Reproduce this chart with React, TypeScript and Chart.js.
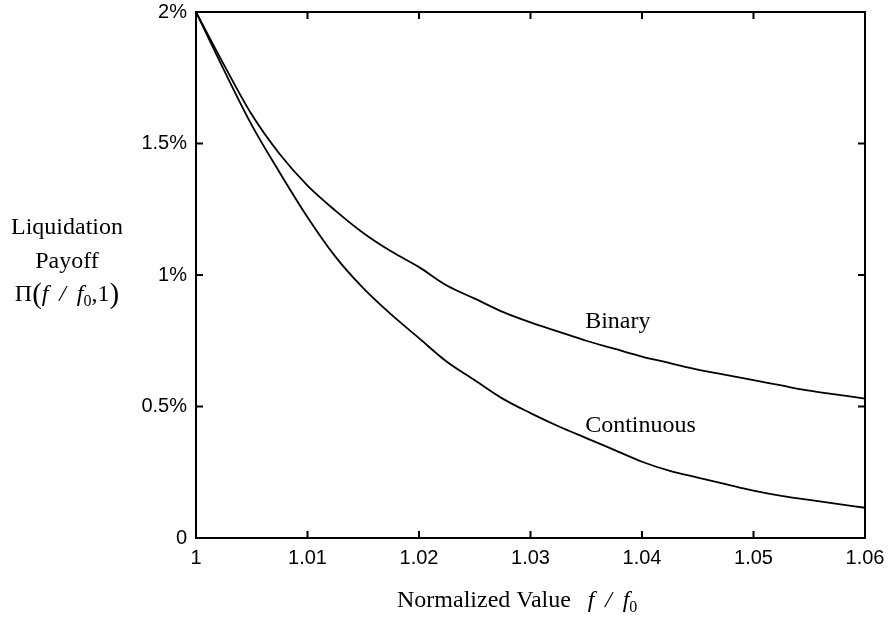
import { useEffect, useRef } from "react";
import { Chart, registerables } from "chart.js";

Chart.register(...registerables);

// ---- data ----
const binaryX = [1.0, 1.0025, 1.005, 1.0075, 1.01, 1.0125, 1.015, 1.0175, 1.02, 1.0225, 1.025, 1.0275, 1.03, 1.0325, 1.035, 1.0375, 1.04, 1.0425, 1.045, 1.0475, 1.05, 1.0525, 1.055, 1.0575, 1.06];
const binaryY = [2.0, 1.8, 1.61, 1.46, 1.34, 1.245, 1.16, 1.09, 1.03, 0.96, 0.91, 0.86, 0.82, 0.785, 0.75, 0.72, 0.69, 0.665, 0.64, 0.62, 0.6, 0.58, 0.56, 0.545, 0.53];

const continuousX = [1.0, 1.0025, 1.005, 1.0075, 1.01, 1.0125, 1.015, 1.0175, 1.02, 1.0225, 1.025, 1.0275, 1.03, 1.0325, 1.035, 1.0375, 1.04, 1.0425, 1.045, 1.0475, 1.05, 1.0525, 1.055, 1.0575, 1.06];
const continuousY = [2.0, 1.78, 1.57, 1.39, 1.22, 1.07, 0.95, 0.85, 0.76, 0.67, 0.6, 0.53, 0.475, 0.425, 0.38, 0.335, 0.29, 0.255, 0.23, 0.205, 0.18, 0.16, 0.145, 0.13, 0.115];

const seriesNames = ["Binary", "Continuous"];
const seriesLabelX = [1.0349, 1.0349];
const seriesLabelY = [0.798, 0.403];

const xTicks = [1, 1.01, 1.02, 1.03, 1.04, 1.05, 1.06];
const xTickLabels = ["1", "1.01", "1.02", "1.03", "1.04", "1.05", "1.06"];
const yTicks = [0, 0.5, 1, 1.5, 2];
const yTickLabels = ["0", "0.5%", "1%", "1.5%", "2%"];

const SERIF = '"Liberation Serif", "Times New Roman", serif';
const SANS = '"Liberation Sans", Arial, sans-serif';

type Run = { text: string; font: string; dy?: number };

function drawRuns(ctx: CanvasRenderingContext2D, runs: Run[], startX: number, baseline: number, center: boolean) {
  let total = 0;
  const widths = runs.map((r) => {
    ctx.font = r.font;
    const w = ctx.measureText(r.text).width;
    total += w;
    return w;
  });
  let x = center ? startX - total / 2 : startX;
  runs.forEach((r, i) => {
    ctx.font = r.font;
    ctx.fillText(r.text, x, baseline + (r.dy || 0));
    x += widths[i];
  });
}

const framePlugin = {
  id: "frameAndText",
  afterDraw(chart: any) {
    const { ctx, chartArea } = chart;
    const { left, right, top, bottom } = chartArea;
    const xs = chart.scales.x;
    const ys = chart.scales.y;
    ctx.save();
    ctx.strokeStyle = "#000";
    ctx.lineWidth = 2;
    ctx.strokeRect(left, top, right - left, bottom - top);
    ctx.beginPath();
    const tl = 7;
    xTicks.forEach((v) => {
      const px = xs.getPixelForValue(v);
      ctx.moveTo(px, bottom);
      ctx.lineTo(px, bottom - tl);
      ctx.moveTo(px, top);
      ctx.lineTo(px, top + tl);
    });
    yTicks.forEach((v) => {
      const py = ys.getPixelForValue(v);
      ctx.moveTo(left, py);
      ctx.lineTo(left + tl, py);
      ctx.moveTo(right, py);
      ctx.lineTo(right - tl, py);
    });
    ctx.stroke();

    ctx.fillStyle = "#000";
    ctx.textAlign = "left";
    ctx.textBaseline = "alphabetic";
    ctx.font = `24px ${SERIF}`;
    seriesNames.forEach((name, i) => {
      ctx.fillText(name, xs.getPixelForValue(seriesLabelX[i]), ys.getPixelForValue(seriesLabelY[i]));
    });

    const reg = `24px ${SERIF}`;
    const ital = `italic 24px ${SERIF}`;
    const sub = `16px ${SERIF}`;
    const gap = " \u2009/\u2009 ";

    // x-axis title
    drawRuns(
      ctx,
      [
        { text: "Normalized Value", font: reg },
        { text: "  \u2009", font: reg },
        { text: "f", font: ital },
        { text: gap, font: ital },
        { text: "f", font: ital },
        { text: "0", font: sub, dy: 5 },
      ],
      left + 201,
      607,
      false
    );

    // y-axis title
    const cx = 67;
    ctx.font = reg;
    ctx.textAlign = "center";
    ctx.fillText("Liquidation", cx, 234);
    ctx.fillText("Payoff", cx, 268);
    ctx.textAlign = "left";
    const paren = `29px ${SERIF}`;
    drawRuns(
      ctx,
      [
        { text: "Π", font: reg },
        { text: "(", font: paren, dy: 2 },
        { text: "f", font: ital },
        { text: gap, font: ital },
        { text: "f", font: ital },
        { text: "0", font: sub, dy: 5 },
        { text: ",1", font: reg },
        { text: ")", font: paren, dy: 2 },
      ],
      cx,
      301,
      true
    );
    ctx.restore();
  },
};

export default function App() {
  const ref = useRef<HTMLCanvasElement | null>(null);

  useEffect(() => {
    if (!ref.current) return;
    const chart = new Chart(ref.current, {
      type: "line",
      data: {
        datasets: [
          {
            label: seriesNames[0],
            data: binaryX.map((x, i) => ({ x, y: binaryY[i] })),
            borderColor: "#000",
            borderWidth: 1.8,
            pointRadius: 0,
            cubicInterpolationMode: "monotone",
            fill: false,
          },
          {
            label: seriesNames[1],
            data: continuousX.map((x, i) => ({ x, y: continuousY[i] })),
            borderColor: "#000",
            borderWidth: 1.8,
            pointRadius: 0,
            cubicInterpolationMode: "monotone",
            fill: false,
          },
        ],
      },
      options: {
        animation: false,
        responsive: true,
        maintainAspectRatio: false,
        layout: { padding: { left: 0, right: 24, top: 12, bottom: 0 } },
        plugins: { legend: { display: false }, tooltip: { enabled: false }, title: { display: false } },
        scales: {
          x: {
            type: "linear",
            min: 1,
            max: 1.06,
            afterBuildTicks: (scale: any) => {
              scale.ticks = xTicks.map((v) => ({ value: v }));
            },
            afterFit: (scale: any) => {
              scale.height = 82;
              scale.paddingLeft = 0;
              scale.paddingRight = 0;
            },
            grid: { display: false, drawTicks: false },
            border: { display: false },
            ticks: {
              padding: 8,
              color: "#000",
              font: { family: SANS, size: 20 },
              maxRotation: 0,
              autoSkip: false,
              callback: (_v: any, i: number) => xTickLabels[i],
            },
          },
          y: {
            type: "linear",
            min: 0,
            max: 2,
            afterBuildTicks: (scale: any) => {
              scale.ticks = yTicks.map((v) => ({ value: v }));
            },
            afterFit: (scale: any) => {
              scale.width = 196;
              scale.paddingTop = 0;
              scale.paddingBottom = 0;
            },
            grid: { display: false, drawTicks: false },
            border: { display: false },
            ticks: {
              padding: 9,
              color: "#000",
              font: { family: SANS, size: 20 },
              autoSkip: false,
              callback: (_v: any, i: number) => yTickLabels[i],
            },
          },
        },
      },
      plugins: [framePlugin],
    } as any);
    return () => chart.destroy();
  }, []);

  return (
    <div style={{ position: "absolute", left: 0, top: 0, width: 889, height: 620, background: "#fff" }}>
      <canvas ref={ref} />
    </div>
  );
}
